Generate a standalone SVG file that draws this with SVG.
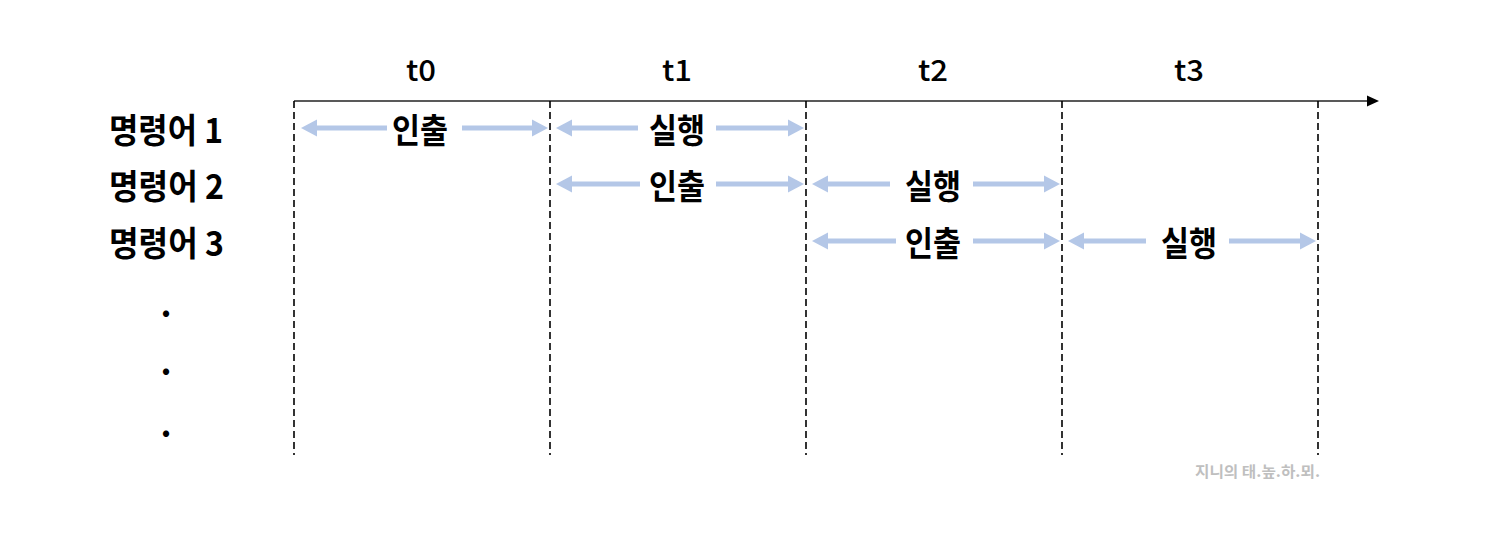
<svg xmlns="http://www.w3.org/2000/svg" width="1499" height="538" viewBox="0 0 1499 538">
<defs>
<style>
.lbl{font-family:'Noto Sans CJK KR','Noto Sans',sans-serif;font-weight:bold;font-size:34px;fill:#000}
.t{font-family:'Noto Sans CJK KR','Noto Sans',sans-serif;font-weight:500;font-size:29px;fill:#000;text-anchor:middle}
.mid{text-anchor:middle}
.seg{stroke:#b4c7e7;stroke-width:5;fill:none}
.dash{stroke:#000;stroke-width:1.6;stroke-dasharray:7 4;fill:none}
.wm{font-family:'Noto Sans CJK KR','Noto Sans',sans-serif;font-weight:bold;font-size:15px;fill:#bfbfbf}
</style>
<marker id="ah" markerUnits="userSpaceOnUse" markerWidth="17" markerHeight="18" viewBox="0 -9 17 18" refX="0" refY="0" orient="auto">
<path d="M0,-8.5 L16,0 L0,8.5 z" fill="#b4c7e7"/>
</marker>
<marker id="axh" markerUnits="userSpaceOnUse" markerWidth="12" markerHeight="12" viewBox="0 -6 12 12" refX="0" refY="0" orient="auto">
<path d="M0,-5.5 L12,0 L0,5.5 z" fill="#000"/>
</marker>
</defs>
<rect width="1499" height="538" fill="#fff"/>

<g id="axis">
<line x1="294" y1="101" x2="1367" y2="101" stroke="#222" stroke-width="1.6" marker-end="url(#axh)"/>
<text class="t" x="421" y="81" textLength="30" lengthAdjust="spacingAndGlyphs">t0</text>
<text class="t" x="677" y="81" textLength="30" lengthAdjust="spacingAndGlyphs">t1</text>
<text class="t" x="933" y="81" textLength="30" lengthAdjust="spacingAndGlyphs">t2</text>
<text class="t" x="1189" y="81" textLength="30" lengthAdjust="spacingAndGlyphs">t3</text>
</g>

<g id="gridlines">
<line class="dash" x1="294" y1="101" x2="294" y2="455"/>
<line class="dash" x1="550" y1="101" x2="550" y2="455"/>
<line class="dash" x1="806" y1="101" x2="806" y2="455"/>
<line class="dash" x1="1062" y1="101" x2="1062" y2="455"/>
<line class="dash" x1="1318" y1="101" x2="1318" y2="455"/>
</g>

<g id="row-labels">
<text class="lbl" x="109" y="143" textLength="114" lengthAdjust="spacingAndGlyphs">명령어 1</text>
<text class="lbl" x="109" y="199" textLength="115" lengthAdjust="spacingAndGlyphs">명령어 2</text>
<text class="lbl" x="109" y="256" textLength="115" lengthAdjust="spacingAndGlyphs">명령어 3</text>
<text class="lbl mid" x="166" y="317">.</text>
<text class="lbl mid" x="166" y="375">.</text>
<text class="lbl mid" x="166" y="437">.</text>
</g>

<g id="connectors">
<!-- row 1 -->
<line class="seg" x1="387" y1="128" x2="317" y2="128" marker-end="url(#ah)"/>
<line class="seg" x1="462" y1="128" x2="532" y2="128" marker-end="url(#ah)"/>
<line class="seg" x1="638" y1="128" x2="572" y2="128" marker-end="url(#ah)"/>
<line class="seg" x1="716" y1="128" x2="788" y2="128" marker-end="url(#ah)"/>
<!-- row 2 -->
<line class="seg" x1="640" y1="184" x2="572" y2="184" marker-end="url(#ah)"/>
<line class="seg" x1="716" y1="184" x2="788" y2="184" marker-end="url(#ah)"/>
<line class="seg" x1="890" y1="184" x2="828" y2="184" marker-end="url(#ah)"/>
<line class="seg" x1="973" y1="184" x2="1044" y2="184" marker-end="url(#ah)"/>
<!-- row 3 -->
<line class="seg" x1="896" y1="241" x2="828" y2="241" marker-end="url(#ah)"/>
<line class="seg" x1="973" y1="241" x2="1044" y2="241" marker-end="url(#ah)"/>
<line class="seg" x1="1146" y1="241" x2="1084" y2="241" marker-end="url(#ah)"/>
<line class="seg" x1="1229" y1="241" x2="1300" y2="241" marker-end="url(#ah)"/>
</g>

<g id="n1-fetch"><text class="lbl mid" x="420" y="143" textLength="56" lengthAdjust="spacingAndGlyphs">인출</text></g>
<g id="n1-exec"><text class="lbl mid" x="677" y="143" textLength="56" lengthAdjust="spacingAndGlyphs">실행</text></g>
<g id="n2-fetch"><text class="lbl mid" x="677" y="199" textLength="56" lengthAdjust="spacingAndGlyphs">인출</text></g>
<g id="n2-exec"><text class="lbl mid" x="933" y="199" textLength="56" lengthAdjust="spacingAndGlyphs">실행</text></g>
<g id="n3-fetch"><text class="lbl mid" x="933" y="256" textLength="56" lengthAdjust="spacingAndGlyphs">인출</text></g>
<g id="n3-exec"><text class="lbl mid" x="1189" y="256" textLength="56" lengthAdjust="spacingAndGlyphs">실행</text></g>

<text class="wm" x="1195" y="477" textLength="125" lengthAdjust="spacingAndGlyphs">지니의 태.높.하.뫼.</text>
</svg>
